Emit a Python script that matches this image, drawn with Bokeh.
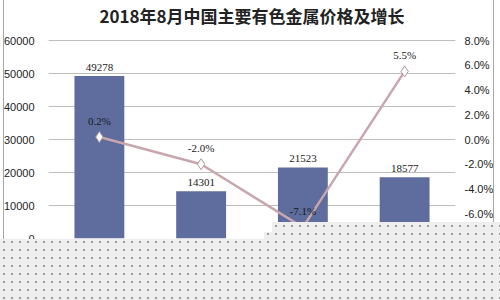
from bokeh.plotting import figure
from bokeh.models import (LinearAxis, Range1d, FactorRange, FixedTicker, Label,
                          PrintfTickFormatter, ColumnDataSource, LabelSet, InlineStyleSheet)
from bokeh.core.properties import value
from bokeh.embed import file_html
from bokeh.resources import INLINE

title_text = "2018年8月中国主要有色金属价格及增长"
metals = ["铜", "铝", "锌", "铅"]
prices = [49278, 14301, 21523, 18577]
growth = [0.2, -2.0, -7.1, 5.5]
left_ticks = [0, 10000, 20000, 30000, 40000, 50000, 60000]
right_ticks = [-8, -6, -4, -2, 0, 2, 4, 6, 8]

src = ColumnDataSource(dict(
    metal=metals,
    price=prices,
    price_label=[str(v) for v in prices],
    growth=growth,
    growth_label=["%.1f%%" % g for g in growth],
))

FONT = "Liberation Sans"

# layout: frame spans from the canvas top to 62px above the bottom;
# the 0..60000 axis span occupies the lower 198px of it (title sits in the headroom)
W, H, BOTTOM = 500, 300, 62
FRAME_H = H - BOTTOM
AXIS_PX = 198
L_MIN, L_MAX = 0, 60000
R_MIN, R_MAX = -8, 8
l_top = L_MIN + (L_MAX - L_MIN) * FRAME_H / AXIS_PX
r_top = R_MIN + (R_MAX - R_MIN) * FRAME_H / AXIS_PX

p = figure(width=W, height=H, output_backend="svg", toolbar_location=None,
           x_range=FactorRange(*metals), y_range=Range1d(L_MIN, l_top),
           min_border_left=45, min_border_right=45, min_border_top=0,
           min_border_bottom=BOTTOM)
p.outline_line_color = None
p.background_fill_color = "white"
p.border_fill_color = "white"

p.extra_y_ranges = {"pct": Range1d(R_MIN, r_top)}

p.xaxis.visible = False
p.xgrid.visible = False

ya = p.yaxis[0]
ya.ticker = FixedTicker(ticks=left_ticks)
ya.axis_line_color = None
ya.major_tick_line_color = None
ya.minor_tick_line_color = None
ya.major_label_standoff = 8
ya.major_label_text_font = FONT
ya.major_label_text_font_size = "11px"
ya.major_label_text_color = "#222222"

p.ygrid.ticker = FixedTicker(ticks=left_ticks)
p.ygrid.grid_line_color = "#BDBDBD"
p.ygrid.grid_line_width = 1

ra = LinearAxis(y_range_name="pct", ticker=FixedTicker(ticks=right_ticks),
                formatter=PrintfTickFormatter(format="%.1f%%"))
ra.axis_line_color = None
ra.major_tick_line_color = None
ra.minor_tick_line_color = None
ra.major_label_standoff = 3
ra.major_label_text_font = FONT
ra.major_label_text_font_size = "11px"
ra.major_label_text_color = "#222222"
p.add_layout(ra, "right")

p.vbar(x="metal", top="price", width=0.49, source=src,
       fill_color="#5E6D9D", line_color=None)

p.line(x="metal", y="growth", y_range_name="pct", source=src,
       line_color="#C8A6AD", line_width=2.5)
p.scatter(x="metal", y="growth", y_range_name="pct", source=src, marker="diamond",
          size=11, fill_color="white", line_color="#A89A9C", line_width=1)

p.add_layout(LabelSet(x="metal", y="price", text="price_label", source=src,
                      y_offset=5, text_align="center", text_baseline="bottom",
                      text_font=FONT, text_font_size="11px", text_color="#1a1a1a"))
p.add_layout(LabelSet(x="metal", y="growth", text="growth_label", source=src,
                      y_range_name="pct", y_offset=10, text_align="center",
                      text_baseline="bottom", text_font=FONT, text_font_size="11px",
                      text_color="#1a1a1a"))

# chart title, centred over the plot area, 15px below the canvas top
title_y = l_top - 15 * (L_MAX - L_MIN) / AXIS_PX
p.add_layout(Label(x=len(metals) / 2, y=title_y, text=title_text,
                   text_align="center", text_baseline="middle",
                   text_font="Noto Sans CJK SC", text_font_size="17px",
                   text_font_style="bold", text_color="#222222"))

# chart border and the obscured (checkered) region of the reference picture
css = """
:host { position: relative; }
:host::before {
  content: ""; position: absolute; left: 3px; top: 0; width: 491px; height: 300px;
  box-sizing: border-box; border-left: 1px solid #A6A6A6; border-right: 1px solid #A6A6A6;
  pointer-events: none; z-index: 50;
}
:host::after {
  content: ""; position: absolute; left: 0; top: 222px; width: 500px; height: 78px;
  background-color: #EEEEEE;
  background-image: radial-gradient(circle, #9A9A9A 0.8px, transparent 1.3px);
  background-size: 8px 8px;
  clip-path: polygon(272px 0, 500px 0, 500px 78px, 0 78px, 0 17px, 264px 17px, 264px 10px, 272px 10px);
  pointer-events: none; z-index: 60;
}
"""
p.stylesheets = [InlineStyleSheet(css=css)]

open("out.html", "w").write(file_html(p, INLINE))
